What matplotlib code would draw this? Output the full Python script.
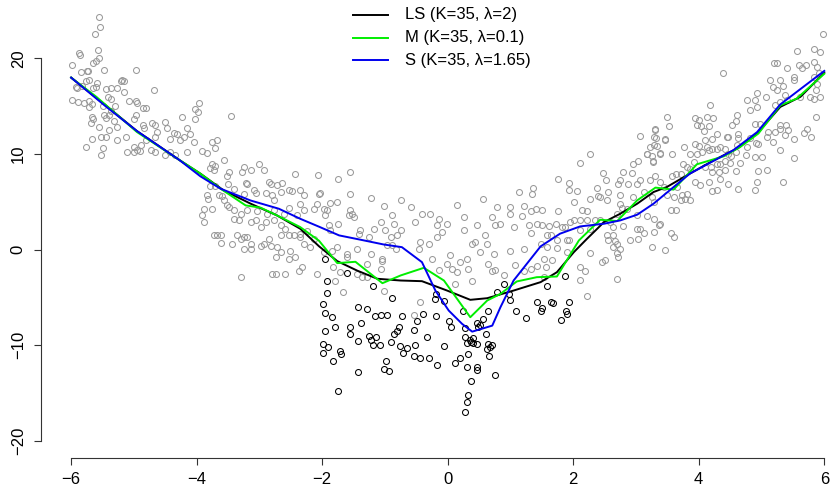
import numpy as np
import matplotlib
matplotlib.use("Agg")
import matplotlib.pyplot as plt
from matplotlib.lines import Line2D

# ---- observed data (x, y) -------------------------------------------------
# grey points: the main cloud
gray_left = [
    (-5.55, 24.3), (-5.54, 23.3), (-5.62, 22.6), (-5.88, 20.6), (-5.86, 20.4), (-5.57, 20.9),
    (-5.99, 19.3), (-5.56, 20.1), (-5.61, 19.7), (-5.65, 19.55), (-5.74, 18.7), (-5.73, 18.7),
    (-5.85, 18.6), (-5.47, 18.75), (-4.96, 18.8), (-5.93, 17.0), (-5.90, 16.9), (-5.82, 17.1),
    (-5.77, 17.6), (-5.72, 17.7), (-5.65, 16.9), (-5.60, 17.0), (-5.58, 17.45), (-5.45, 16.8),
    (-5.37, 16.9), (-5.27, 16.9), (-5.19, 17.7), (-5.16, 17.6), (-5.16, 16.5), (-5.20, 17.6),
    (-4.68, 16.7), (-5.98, 15.7), (-5.89, 15.5), (-5.80, 15.3), (-5.72, 15.6), (-5.72, 14.9),
    (-5.66, 15.2), (-5.50, 15.0), (-5.42, 16.0), (-5.37, 15.8), (-5.30, 15.0), (-5.08, 15.6),
    (-4.97, 15.6), (-4.95, 15.3), (-4.86, 14.8), (-4.81, 14.8), (-5.67, 13.9), (-5.65, 13.7),
    (-5.69, 13.3), (-5.56, 12.8), (-5.48, 14.1), (-5.40, 14.1), (-5.37, 14.5), (-5.45, 13.8),
    (-5.32, 13.5), (-5.27, 12.8), (-4.97, 14.1), (-5.00, 13.7), (-4.86, 13.0), (-4.84, 12.7),
    (-4.71, 13.3), (-4.66, 13.0), (-4.50, 13.4), (-4.47, 12.7), (-4.23, 13.9), (-4.15, 12.7),
    (-4.10, 12.1), (-4.02, 14.7), (-3.97, 15.3), (-3.98, 14.4), (-4.03, 13.7), (-3.45, 14.0),
    (-5.67, 11.6), (-5.52, 11.8), (-5.45, 11.8), (-5.40, 12.5), (-5.27, 11.45), (-5.12, 11.8),
    (-5.00, 10.75), (-4.95, 10.4), (-4.88, 10.9), (-4.81, 11.45), (-4.66, 11.8), (-4.63, 12.3),
    (-4.42, 11.6), (-4.36, 12.2), (-4.31, 12.1), (-4.27, 11.5), (-4.20, 11.8), (-4.15, 10.2),
    (-4.05, 11.3), (-3.91, 10.3), (-3.75, 11.3), (-3.67, 11.45), (-3.70, 10.6), (-5.76, 10.7),
    (-5.50, 10.6), (-5.53, 9.9), (-5.11, 10.2), (-5.00, 10.2), (-4.90, 10.3), (-4.73, 10.4),
    (-4.66, 10.2), (-4.50, 9.9), (-4.42, 10.2), (-4.35, 9.9), (-3.83, 10.1), (-3.57, 9.4),
]
gray_midleft = [
    (-3.75, 8.93), (-3.70, 8.72), (-3.73, 8.37), (-3.78, 8.58), (-3.49, 8.12), (-3.51, 7.67),
    (-3.27, 8.12), (-3.14, 8.37), (-3.25, 8.65), (-3.01, 9.0), (-2.93, 8.37), (-3.50, 6.90),
    (-3.70, 6.69), (-3.78, 6.62), (-3.22, 6.97), (-3.19, 6.83), (-2.85, 7.08), (-2.82, 6.90),
    (-3.09, 6.20), (-3.06, 5.92), (-3.25, 5.85), (-3.41, 6.38), (-3.83, 5.68), (-3.82, 5.33),
    (-3.59, 5.57), (-3.57, 5.15), (-3.49, 4.46), (-3.41, 4.18), (-3.51, 4.63), (-3.88, 4.28),
    (-3.75, 4.28), (-3.91, 3.58), (-3.88, 2.88), (-3.65, 5.68), (-2.90, 5.92), (-2.80, 5.68),
    (-2.77, 5.15), (-2.66, 6.03), (-2.64, 6.97), (-2.72, 6.73), (-2.53, 6.20), (-2.48, 6.13),
    (-2.43, 7.95), (-2.35, 6.20), (-2.29, 5.68), (-2.07, 7.77), (-1.75, 7.43), (-1.55, 8.12),
    (-2.03, 5.92), (-2.05, 5.85), (-2.08, 4.81), (-2.13, 4.28), (-2.35, 4.81), (-2.29, 4.11),
    (-2.40, 3.58), (-2.53, 4.39), (-2.61, 3.76), (-2.77, 4.11), (-2.88, 3.69), (-3.04, 4.04),
    (-3.19, 4.11), (-3.30, 3.76), (-3.06, 3.13), (-3.14, 2.88), (-3.33, 3.06), (-3.41, 3.23),
    (-2.90, 2.88), (-2.77, 3.06), (-2.98, 2.36), (-2.66, 2.53), (-2.59, 2.18), (-2.53, 1.49),
    (-2.45, 1.49), (-2.35, 1.66), (-2.24, 1.90), (-2.35, 1.31), (-2.66, 1.49), (-2.85, 1.14),
    (-2.93, 0.54), (-2.98, 0.33), (-3.14, 0.54), (-3.14, 0.09), (-3.35, 1.49), (-3.25, 1.31),
    (-3.19, 1.31), (-3.30, 1.14), (-3.62, 1.49), (-3.67, 1.49), (-3.73, 1.49), (-3.62, 0.68),
    (-3.43, 0.54), (-3.25, 0.09), (-2.82, 0.33), (-2.72, 0.26), (-2.66, -0.26), (-2.51, -0.09),
    (-2.29, 0.54), (-2.13, 1.14), (-2.19, 0.26), (-2.43, -0.79), (-2.53, -0.96), (-2.74, -0.79),
    (-1.97, 4.28), (-1.92, 4.11), (-1.95, 3.58), (-1.87, 4.87), (-1.76, 4.98), (-1.55, 5.85),
    (-1.23, 5.43), (-1.56, 4.11), (-1.52, 3.76), (-1.50, 3.41), (-1.58, 3.58), (-1.74, 2.71),
    (-1.89, 2.53), (-1.87, 2.01), (-1.76, 0.26), (-1.84, -0.09), (-1.97, -0.26), (-1.60, -0.44),
    (-1.44, 0.09), (-1.39, 2.01), (-1.42, 1.66), (-1.18, 2.18), (-1.26, 1.31), (-1.02, 4.53),
    (-1.07, 2.88), (-1.00, 2.01), (-0.91, 1.31), (-0.89, 3.58), (-0.75, 5.15), (-0.86, 2.71),
    (-0.75, 2.01), (-0.81, 1.49), (-0.89, 0.44), (-0.83, 0.09), (-0.97, 0.44), (-1.05, -1.14),
    (-1.07, -2.01), (-1.23, -0.44), (-1.05, -0.96), (-1.28, -1.48), (-1.60, -0.79), (-1.82, -1.83),
    (-2.32, -1.83), (-2.37, -2.25), (-2.80, -2.53), (-2.74, -2.53), (-2.59, -2.53), (-3.30, -2.88),
    (-2.08, -2.53), (-1.71, -2.36), (-1.44, -2.53), (-1.36, -2.88), (-1.28, -2.88),
]
gray_center = [
    (-0.59, 4.46), (-0.52, 2.89), (-0.41, 3.76), (-0.28, 3.69), (-0.17, 2.54), (-0.14, 3.24),
    (-0.09, 1.84), (-0.01, 2.71), (0.15, 4.63), (0.26, 3.41), (0.26, 2.01), (0.39, 0.61),
    (0.44, 0.79), (0.60, 1.49), (0.47, 2.54), (0.71, 3.41), (0.76, 2.54), (0.79, 4.46),
    (0.63, 0.61), (0.52, -0.26), (0.73, -0.43), (-0.17, 1.31), (-0.30, 0.61), (-0.46, 0.09),
    (-0.44, 0.79), (-0.25, -0.96), (-0.14, -2.18), (-0.01, -1.48), (0.04, -0.61), (0.20, -1.31),
    (0.31, -0.96), (0.07, -2.01), (0.15, -2.35), (0.33, -2.01), (0.65, -1.48), (0.71, -2.25),
    (0.76, -2.18), (0.39, -3.23), (0.12, -3.58), (-0.44, -5.50), (-0.53, -6.80), (-1.02, -4.28),
    (-1.67, -4.45), (-1.79, -3.23),
]
gray_midright = [
    (3.52, 12.9), (3.31, 12.6), (3.07, 11.9), (3.28, 11.8), (3.47, 11.6), (3.33, 10.8),
    (3.39, 10.1), (3.17, 10.05), (3.25, 9.8), (3.57, 10.0), (3.27, 9.2), (3.04, 9.3),
    (2.96, 9.0), (2.27, 10.0), (2.11, 9.1), (2.80, 8.1), (2.94, 8.0), (3.07, 7.3),
    (3.23, 7.25), (3.31, 7.7), (3.63, 7.95), (3.57, 7.7), (2.48, 8.0), (2.53, 7.25),
    (1.75, 7.4), (1.93, 7.0), (2.75, 7.25), (2.72, 6.9), (2.88, 6.9), (3.02, 6.9),
    (3.39, 7.1), (3.44, 6.55), (3.65, 6.55), (1.13, 6.0), (1.36, 6.4), (1.34, 5.8),
    (1.93, 6.2), (2.06, 6.1), (2.38, 6.4), (2.40, 5.6), (2.43, 5.5), (2.56, 6.0),
    (2.75, 5.7), (2.96, 5.5), (3.12, 6.0), (3.25, 5.5), (3.28, 5.0), (3.49, 5.7),
    (3.60, 5.5), (3.71, 5.2), (0.57, 5.3), (0.99, 4.5), (1.21, 4.6), (1.32, 4.0),
    (1.40, 4.3), (1.50, 4.2), (1.75, 4.0), (2.01, 5.0), (2.14, 4.2), (2.22, 4.0),
    (2.27, 5.3), (2.54, 5.15), (2.75, 4.8), (2.78, 4.4), (2.86, 4.3), (2.70, 3.7),
    (3.02, 3.6), (3.17, 3.5), (3.28, 3.2), (3.36, 2.6), (3.55, 4.2), (3.63, 4.1),
    (1.00, 3.7), (1.18, 3.5), (1.29, 2.6), (1.42, 2.7), (1.50, 2.6), (1.61, 2.5),
    (1.72, 2.7), (1.87, 2.4), (1.95, 2.9), (2.01, 3.1), (2.11, 3.1), (2.22, 3.1),
    (2.35, 3.1), (2.43, 3.1), (2.59, 2.9), (2.64, 2.4), (2.80, 2.5), (3.02, 2.2),
    (3.07, 2.2), (3.12, 1.7), (3.28, 1.8), (3.39, 2.7), (3.55, 1.7), (3.60, 1.3),
    (0.84, 2.7), (1.05, 2.4), (1.58, 1.5), (1.64, 1.5), (1.74, 1.0), (1.82, 2.4),
    (1.90, 1.0), (1.93, 1.0), (2.11, 2.1), (2.27, 2.2), (2.54, 1.5), (2.56, 1.0),
    (2.64, 1.5), (2.67, 0.9), (2.70, 0.6), (2.64, 0.3), (2.75, 0.1), (2.70, -0.4),
    (2.72, -0.8), (2.91, 1.0), (3.04, 1.1), (3.25, 0.3), (3.47, 0.0), (1.48, 0.6),
    (1.58, 0.3), (1.21, 0.1), (1.00, -0.1), (1.32, 1.7), (2.27, -0.4), (1.74, 0.2),
    (1.90, -0.2), (1.66, -1.1), (1.53, -1.0), (1.56, -1.8), (1.42, -1.7), (1.21, -2.2),
    (1.32, -2.0), (1.08, -1.6), (0.89, -2.7), (2.11, -1.8), (2.19, -2.2), (2.46, -1.3),
    (2.51, -1.1), (2.70, -3.1), (2.11, -3.2), (2.22, -4.8), (1.53, -2.9),
]
gray_right = [
    (5.98, 22.56), (5.57, 20.81), (5.83, 20.95), (5.93, 20.70), (5.20, 19.55), (5.25, 19.55),
    (5.71, 19.31), (5.59, 19.31), (5.40, 18.96), (5.84, 19.66), (5.88, 19.13), (5.64, 18.96),
    (4.38, 18.50), (5.13, 17.80), (5.30, 17.73), (5.51, 17.80), (5.52, 18.08), (5.83, 18.08),
    (5.91, 18.43), (5.24, 16.69), (5.19, 16.97), (5.34, 17.11), (5.38, 16.16), (5.40, 15.64),
    (5.30, 15.46), (5.22, 15.11), (5.62, 15.99), (5.78, 15.99), (5.93, 15.99), (5.83, 15.81),
    (5.87, 16.69), (5.88, 17.31), (4.93, 16.34), (4.90, 15.64), (4.77, 15.64), (5.07, 15.99),
    (4.81, 14.59), (4.93, 14.94), (4.18, 15.11), (4.61, 14.07), (4.59, 13.47), (4.53, 13.02),
    (3.49, 13.89), (3.94, 13.82), (4.01, 13.54), (4.13, 13.89), (4.22, 13.82), (4.04, 12.91),
    (3.97, 13.02), (4.16, 12.91), (4.09, 12.42), (4.29, 12.07), (4.45, 11.79), (4.47, 11.79),
    (4.63, 12.14), (4.63, 11.72), (4.82, 11.72), (4.90, 13.19), (4.97, 13.12), (4.92, 11.17),
    (4.94, 11.03), (5.09, 11.79), (5.11, 12.32), (5.22, 12.32), (5.30, 13.02), (5.39, 13.02),
    (5.38, 11.97), (5.30, 12.67), (5.43, 12.56), (5.19, 11.27), (5.51, 11.62), (5.72, 12.67),
    (5.68, 12.21), (5.79, 11.79), (5.87, 13.89), (3.47, 11.52), (3.31, 12.49), (3.32, 11.72),
    (3.28, 10.92), (3.22, 10.75), (3.18, 10.05), (3.27, 9.28), (3.39, 9.98), (3.76, 10.75),
    (3.94, 11.10), (4.00, 10.82), (4.10, 11.52), (4.21, 11.62), (4.13, 10.75), (4.05, 10.22),
    (3.86, 9.98), (3.97, 9.98), (4.16, 10.40), (4.21, 10.57), (4.29, 10.57), (4.34, 10.75),
    (4.42, 10.57), (4.46, 10.05), (4.51, 9.77), (4.61, 10.92), (4.60, 10.22), (4.77, 10.75),
    (4.76, 9.87), (4.90, 9.70), (5.01, 9.70), (5.30, 10.40), (5.51, 9.63), (4.66, 9.07),
    (4.60, 8.23), (4.50, 9.07), (4.42, 9.28), (4.34, 9.00), (4.29, 8.93), (4.19, 8.65),
    (4.10, 8.65), (4.21, 8.12), (4.33, 8.12), (4.42, 8.30), (3.92, 9.17), (3.75, 9.00),
    (3.72, 7.95), (3.81, 8.65), (3.86, 8.47), (3.94, 7.08), (4.02, 6.73), (4.16, 7.08),
    (4.21, 6.13), (4.29, 6.20), (4.34, 7.43), (4.47, 6.90), (4.63, 6.38), (4.90, 6.20),
    (4.93, 7.08), (5.09, 8.30), (4.94, 8.23), (5.35, 7.08), (3.73, 5.68), (3.81, 5.78),
    (3.78, 5.33), (3.86, 5.23),
]

# black points: the group below the cloud for |x| < 2
black_pts = [
    (-1.95, -0.96), (-1.60, -2.46), (-1.92, -3.23), (-1.93, -4.56), (-1.98, -5.68), (-1.95, -6.65),
    (-1.85, -7.07), (-1.80, -8.12), (-1.96, -8.47), (-1.98, -9.87), (-1.90, -10.15), (-1.99, -10.85),
    (-1.71, -10.57), (-1.70, -10.92), (-1.83, -11.68), (-1.75, -14.76), (-1.55, -8.12), (-1.55, -8.82),
    (-1.38, -7.70), (-1.43, -9.52), (-1.43, -6.02), (-1.28, -6.20), (-1.19, -3.82), (-1.16, -6.90),
    (-1.07, -6.83), (-0.97, -6.83), (-0.89, -5.08), (-1.26, -8.99), (-1.22, -9.45), (-1.14, -9.17),
    (-1.19, -9.94), (-1.08, -9.97), (-0.91, -9.69), (-0.86, -8.82), (-0.81, -8.54), (-0.78, -8.12),
    (-0.76, -10.04), (-0.73, -6.90), (-0.72, -10.85), (-0.65, -10.29), (-0.54, -8.40), (-0.49, -7.42),
    (-0.52, -9.94), (-0.54, -11.09), (-0.44, -11.37), (-0.39, -6.72), (-0.33, -9.17), (-0.30, -11.33),
    (-0.99, -11.61), (-1.01, -12.49), (-0.94, -12.66), (-1.43, -12.84), (-0.20, -5.15), (-0.18, -4.63),
    (-0.19, -6.90), (-0.06, -5.33), (-0.06, -10.11), (0.02, -7.49), (0.05, -8.05), (-0.17, -12.03),
    (0.12, -11.89), (0.20, -11.33), (0.24, -6.37), (0.28, -9.10), (0.31, -9.80), (0.36, -9.45),
    (0.41, -9.80), (0.41, -9.27), (0.31, -12.31), (0.27, -8.15), (0.37, -13.71), (0.33, -15.18),
    (0.31, -15.98), (0.27, -17.03), (0.47, -12.31), (0.46, -12.59), (0.47, -7.70), (0.49, -8.05),
    (0.52, -7.84), (0.56, -7.25), (0.61, -8.82), (0.65, -6.37), (0.64, -9.87), (0.68, -10.22),
    (0.71, -9.94), (0.62, -10.39), (0.66, -11.09), (0.75, -13.08), (0.79, -4.45), (0.33, -10.92),
    (0.47, -9.87), (0.37, -9.69),
    (1.87, -2.8), (1.58, -3.8), (1.42, -5.5), (1.50, -6.1), (1.64, -5.5), (1.68, -5.6),
    (1.93, -5.5), (1.89, -6.4), (1.90, -6.7), (1.48, -6.4), (1.09, -6.4), (1.24, -7.1),
    (1.80, -7.4), (0.89, -3.6), (1.00, -5.3), (0.97, -4.6),
]

# fitted curves
ls_x = [-6.0, -5.45, -4.95, -4.28, -3.94, -3.57, -3.14, -2.72, -2.35, -2.05, -1.76, -1.44,
        -1.12, -0.75, -0.41, -0.01, 0.36, 0.63, 1.05, 1.48, 1.74, 2.01, 2.22, 2.49, 2.75,
        3.02, 3.28, 3.49, 3.86, 4.24, 4.61, 4.93, 5.30, 5.62, 6.0]
ls_y = [18.0, 15.1, 12.4, 9.4, 7.95, 6.2, 4.81, 3.58, 2.19, 0.35, -1.2, -2.2,
        -3.05, -3.23, -3.3, -4.28, -5.25, -5.08, -4.28, -3.4, -2.36, -0.26, 1.14, 2.88, 3.76,
        4.81, 6.03, 6.55, 7.96, 9.35, 10.58, 12.15, 14.94, 15.99, 18.5]

m_x = [-6.0, -5.6, -4.95, -4.28, -3.94, -3.62, -3.22, -2.98, -2.72, -2.35, -2.05, -1.76,
       -1.47, -1.04, -0.75, -0.38, -0.06, 0.36, 0.63, 0.84, 1.1, 1.42, 1.74, 2.09, 2.43,
       2.70, 3.02, 3.31, 3.60, 3.97, 4.40, 4.66, 4.95, 5.30, 5.56, 6.0]
m_y = [18.0, 16.0, 12.3, 9.4, 7.95, 6.38, 4.63, 4.39, 3.58, 2.36, 0.93, -1.41,
       -1.27, -3.51, -2.7, -1.9, -3.23, -7.07, -5.32, -4.63, -3.33, -2.88, -2.81, 0.96, 3.13,
       2.99, 5.16, 6.49, 6.28, 8.93, 9.77, 10.74, 12.15, 15.1, 15.8, 18.4]

s_x = [-6.0, -5.45, -4.95, -4.28, -3.94, -3.62, -3.14, -2.69, -2.35, -2.05, -1.73, -1.39,
       -1.02, -0.73, -0.41, -0.196, 0.016, 0.23, 0.39, 0.71, 0.84, 1.05, 1.48, 1.79, 2.11,
       2.49, 2.75, 3.02, 3.28, 3.71, 3.86, 4.55, 4.93, 5.30, 6.0]
s_y = [18.0, 15.0, 12.4, 9.4, 7.67, 6.38, 5.14, 4.28, 3.23, 2.4, 1.49, 1.04,
       0.54, 0.26, -1.31, -4.28, -6.37, -7.77, -8.58, -7.95, -6.03, -3.23, 0.34, 1.67, 2.43,
       2.71, 3.06, 3.66, 4.81, 7.15, 7.96, 10.4, 12.3, 15.2, 18.7]

x_ticks = [-6, -4, -2, 0, 2, 4, 6]
y_ticks = [-20, -10, 0, 10, 20]
legend_labels = ["LS (K=35, \u03bb=2)", "M (K=35, \u03bb=0.1)", "S (K=35, \u03bb=1.65)"]
line_colors = ["#000000", "#00EE00", "#0000EE"]

# ---- figure -----------------------------------------------------------------
W, H = 830, 487
plt.rcParams["font.family"] = ["Liberation Sans", "DejaVu Sans"]
fig = plt.figure(figsize=(W / 100, H / 100), dpi=100)

# plot region in pixel terms (R-like base graphics layout)
left_px, right_px, top_px, bottom_px = 41, 854.4, -6.5, 458
ax = fig.add_axes([left_px / W, (H - bottom_px) / H,
                   (right_px - left_px) / W, (bottom_px - top_px) / H])
ax.set_xlim(-6.48, 6.48)
ax.set_ylim(-21.8, 26.8)

gray = np.array(gray_left + gray_midleft + gray_center + gray_midright + gray_right)
blk = np.array(black_pts)
ax.plot(gray[:, 0], gray[:, 1], linestyle="none", marker="o", markersize=4.3,
        markerfacecolor="none", markeredgecolor="#9a9a9a", markeredgewidth=0.75)
ax.plot(blk[:, 0], blk[:, 1], linestyle="none", marker="o", markersize=4.3,
        markerfacecolor="none", markeredgecolor="black", markeredgewidth=0.75)

for xs, ys, c in [(ls_x, ls_y, line_colors[0]), (m_x, m_y, line_colors[1]), (s_x, s_y, line_colors[2])]:
    ax.plot(xs, ys, color=c, linewidth=1.4, solid_joinstyle="round")

# axes in base-graphics style
for side in ["top", "right"]:
    ax.spines[side].set_visible(False)
ax.spines["left"].set_bounds(y_ticks[0], y_ticks[-1])
ax.spines["bottom"].set_bounds(x_ticks[0], x_ticks[-1])
for side in ["left", "bottom"]:
    ax.spines[side].set_linewidth(0.8)
    ax.spines[side].set_color("#333333")
ax.set_xticks(x_ticks)
ax.set_yticks(y_ticks)
ax.set_xticklabels(["\u2212" + str(-t) if t < 0 else str(t) for t in x_ticks])
ax.set_yticklabels(["\u2212" + str(-t) if t < 0 else str(t) for t in y_ticks],
                   rotation=90, va="center")
ax.tick_params(axis="both", direction="out", length=5, width=0.8, colors="#333333",
               labelcolor="black", labelsize=12)
ax.tick_params(axis="x", pad=5)
ax.tick_params(axis="y", pad=6)
ax.patch.set_alpha(0)

# legend (no frame): short line sample followed by its label
rows_py = [15, 37.7, 60]
for py, lab, c in zip(rows_py, legend_labels, line_colors):
    yf = 1 - py / H
    fig.add_artist(Line2D([353 / W, 388 / W], [yf, yf], color=c, linewidth=1.4))
    fig.text(405 / W, yf, lab, fontsize=12, va="center", ha="left")

fig.savefig("out.png", dpi=100)
